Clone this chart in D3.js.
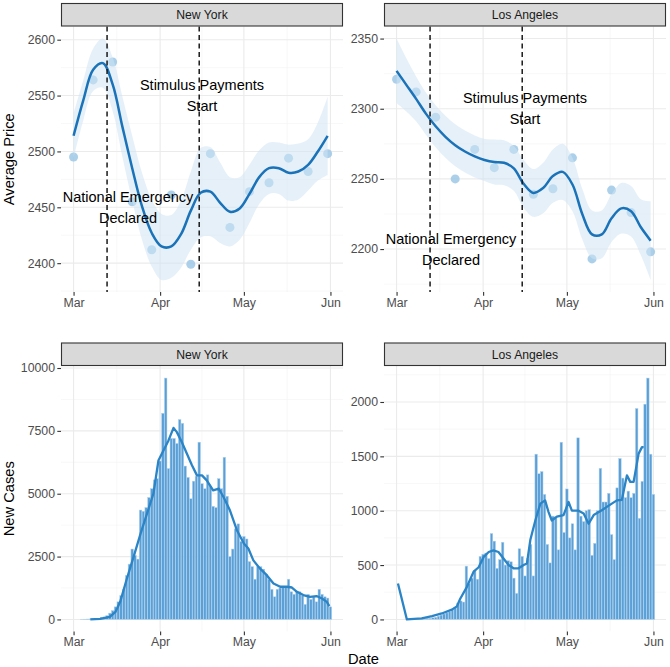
<!DOCTYPE html>
<html>
<head>
<meta charset="utf-8">
<script src="https://cdn.jsdelivr.net/npm/d3@7"></script>
<style>
  body { margin: 0; background: #fff; }
  svg text { font-family: "Liberation Sans", Arial, Helvetica, sans-serif; }
</style>
</head>
<body>
<svg id="chart" width="670" height="667"></svg>
<script>
// ---- data ----
const cities = ["New York", "Los Angeles"];

// weekly average price, Mar 1 .. May 31 (days after Mar 1)
const priceDays = [0, 7, 14, 21, 28, 35, 42, 49, 56, 63, 70, 77, 84, 91];
const nyPrice = [2495, 2564, 2580, 2455, 2412, 2461, 2399, 2498, 2432, 2464, 2472, 2494, 2482, 2498];
const laPrice = [2321, 2312, 2294, 2250, 2271, 2258, 2271, 2239, 2243, 2265, 2193, 2242, 2226, 2198];

// smoothed fit and its band, read every 3.5 days
const fitDays = [0, 3.5, 7, 10.5, 14, 17.5, 21, 24.5, 28, 31.5, 35, 38.5, 42, 45.5, 49, 52.5, 56, 59.5, 63, 66.5, 70, 73.5, 77, 80.5, 84, 87.5, 91];
const nyFit  = [2514, 2546, 2573, 2579, 2560, 2522, 2485, 2451, 2427, 2415, 2415, 2426, 2447, 2463, 2464, 2454, 2446, 2449, 2462, 2477, 2485, 2485, 2481, 2482, 2488, 2500, 2514];
const nyLow  = [2494, 2528, 2554, 2557, 2536, 2495, 2456, 2421, 2397, 2385, 2387, 2396, 2412, 2423, 2424, 2418, 2415, 2421, 2436, 2453, 2462, 2462, 2456, 2457, 2465, 2474, 2479];
const nyHigh = [2534, 2564, 2592, 2601, 2584, 2549, 2514, 2481, 2457, 2444, 2443, 2456, 2482, 2503, 2504, 2490, 2477, 2477, 2488, 2501, 2508, 2508, 2506, 2507, 2511, 2526, 2549];
const laFit  = [2327, 2317, 2307, 2296.5, 2287.5, 2280, 2274, 2269.5, 2266, 2263.5, 2262, 2261.5, 2257.5, 2246.5, 2240, 2243.5, 2252, 2255, 2246, 2225, 2210.5, 2210.5, 2222, 2229, 2227, 2215.5, 2206];
const laLow  = [2304, 2298, 2291, 2281.5, 2272.5, 2265, 2259, 2254.5, 2251, 2248.5, 2246, 2245.5, 2241.5, 2229.5, 2223, 2225.5, 2233, 2235, 2227, 2207, 2193.5, 2193.5, 2205, 2211, 2209, 2195.5, 2178];
const laHigh = [2350, 2336, 2323, 2311.5, 2302.5, 2295, 2289, 2284.5, 2281, 2278.5, 2278, 2277.5, 2273.5, 2263.5, 2257, 2261.5, 2271, 2275, 2265, 2243, 2227.5, 2227.5, 2239, 2247, 2245, 2235.5, 2234];

// events
const eventDates = ["2020-03-13", "2020-04-15"];
const eventLabels = [["National Emergency", "Declared"], ["Stimulus Payments", "Start"]];
const labelDays = [19.5, 46];
const nyLabelY = [2450, 2550];
const laLabelY = [2200, 2300];

// daily new cases, Mar 1 .. Jun 1
const nyCases = [0, 0, 0, 5, 10, 15, 20, 30, 40, 50,
  80, 100, 150, 250,
  350, 500, 700, 950, 1200, 1750, 2200, 2800, 2550, 2400,
  4350, 4300, 4450, 4850, 5200, 5550,
  5600, 6300, 8200, 9600, 6000, 7200, 7200, 7000, 7950, 7800,
  6100, 5650, 4800, 5500, 5700, 7050, 5400, 5200, 5750, 5300,
  4500, 4450, 5600, 5200, 6450, 4900, 2500, 2800, 3600, 3800,
  3100, 3300, 3200, 2300, 2100, 1600, 2100, 2100, 2000, 1800,
  1600, 1200, 900, 1200, 1250, 1300, 1300, 1600, 1100, 1000,
  1100, 1100, 950, 600, 1000, 800, 900, 700, 1200, 1000,
  900, 850, 500];
const laCases = [0, 0, 0, 0, 0, 1, 2, 3, 5, 5, 8, 10,
  10, 15, 20, 30, 40, 50, 60, 70, 90, 110, 150, 170, 160,
  490, 330, 380, 450, 370, 580, 600, 610, 560, 790,
  720, 470, 550, 710, 500, 540, 530, 380, 240, 650,
  580, 400, 560, 690, 400, 1520, 1340, 1360, 1150, 690,
  520, 950, 940, 640, 1630, 800, 1200, 750, 880, 640,
  1670, 950, 900, 1000, 1010, 590, 700, 1000, 1390, 1080,
  1080, 1160, 780, 550, 1210, 1480, 1300, 1120, 1180, 1120,
  1160, 1940, 930, 1270, 1980, 2220, 1520, 1150];

// rolling average line [day, cases]
const nyAvg = [[6,0],[9.5,25],[13,100],[15,300],[16.7,700],[19,1590],[21.5,2490],[24,3410],[26.3,4210],[28.6,5000],
  [30.4,6320],[32.2,6720],[34,7120],[35.8,7620],[37,7450],[38.8,7050],[40.6,6590],[42.4,6130],[44.2,5730],[46,5730],
  [47.7,5530],[50,5130],[52,5200],[53.7,4870],[56,4340],[58.5,3550],[61,3020],[62.6,2820],[64.4,2350],[66.8,2020],
  [69.2,1760],[71.6,1430],[74,1300],[76.4,1300],[78.2,1270],[80,1100],[82.3,970],[84.7,900],[87,930],[89,830],
  [90.7,700],[91.6,530]];
const laAvg = [[0.5,330],[3.7,0],[9,10],[12.7,30],[16.2,55],[19.8,90],[21.6,120],[22.8,190],[25.2,300],[27.6,440],
  [29.4,480],[31.2,575],[33,620],[34.7,635],[36.5,620],[38.3,560],[40.1,500],[41.9,470],[43.7,470],[45.5,500],
  [46.7,515],[47.9,730],[49.7,910],[51.5,1065],[53.2,1095],[54.4,990],[55.6,910],[57.4,945],[59.8,960],[61.6,1080],
  [62.8,1000],[65.2,1000],[67,975],[68.8,880],[70.6,960],[73.5,1005],[75.3,1035],[77.1,1065],[78.9,1095],[80.7,1100],
  [82.5,1325],[83.7,1265],[84.9,1265],[86.7,1525],[87.9,1585],[88.5,1585]];

// axes
const monthTicks = ["2020-03-01", "2020-04-01", "2020-05-01", "2020-06-01"];
const monthLabels = ["Mar", "Apr", "May", "Jun"];
const nyPriceTicks = [2400, 2450, 2500, 2550, 2600];
const laPriceTicks = [2200, 2250, 2300, 2350];
const nyCaseTicks = [0, 2500, 5000, 7500, 10000];
const laCaseTicks = [0, 500, 1000, 1500, 2000];

// ---- layout ----
const svg = d3.select("#chart");
const panelW = 282, panelH = 265.5;
const colX = [61, 384];
const rowTop = [3, 342.5];   // strip top
const stripH = 23.5;
const start = new Date(2020, 2, 1);
const dayToDate = d => new Date(start.getTime() + d * 864e5);
const parse = d3.timeParse("%Y-%m-%d");

const x = d3.scaleTime()
  .domain([dayToDate(-4.5), dayToDate(96.5)])
  .range([0, panelW]);

function expand(ext) {
  const r = ext[1] - ext[0];
  return [ext[0] - 0.05 * r, ext[1] + 0.05 * r];
}

function minorOf(ticks, dom) {
  const step = ticks[1] - ticks[0];
  const out = [ticks[0] - step / 2];
  ticks.forEach(t => out.push(t + step / 2));
  return out.filter(v => v >= dom[0] && v <= dom[1]);
}

function drawPanel(col, row, title, yTicks, yDomain) {
  const g = svg.append("g")
    .attr("transform", `translate(${colX[col]}, ${rowTop[row] + stripH})`);
  const y = d3.scaleLinear().domain(yDomain).range([panelH, 0]);

  // strip
  svg.append("rect")
    .attr("x", colX[col] + 0.5).attr("y", rowTop[row] + 0.5)
    .attr("width", panelW - 1).attr("height", stripH - 1)
    .attr("fill", "#d9d9d9").attr("stroke", "#333").attr("stroke-width", 1.1);
  svg.append("text")
    .attr("x", colX[col] + panelW / 2).attr("y", rowTop[row] + stripH / 2 + 4.3)
    .attr("text-anchor", "middle").attr("font-size", 12.2).attr("fill", "#1a1a1a")
    .text(title);

  // grid
  const yMinor = minorOf(yTicks, yDomain);
  const xMaj = monthTicks.map(parse);
  const xMinor = [new Date(2020, 2, 16, 12), new Date(2020, 3, 16), new Date(2020, 4, 16, 12)];
  g.selectAll(".ymin").data(yMinor).enter().append("line")
    .attr("x1", 0).attr("x2", panelW).attr("y1", d => y(d)).attr("y2", d => y(d))
    .attr("stroke", "#f3f3f3").attr("stroke-width", 0.6);
  g.selectAll(".xmin").data(xMinor).enter().append("line")
    .attr("y1", 0).attr("y2", panelH).attr("x1", d => x(d)).attr("x2", d => x(d))
    .attr("stroke", "#f3f3f3").attr("stroke-width", 0.6);
  g.selectAll(".ymaj").data(yTicks).enter().append("line")
    .attr("x1", 0).attr("x2", panelW).attr("y1", d => y(d)).attr("y2", d => y(d))
    .attr("stroke", "#ebebeb").attr("stroke-width", 1.1);
  g.selectAll(".xmaj").data(xMaj).enter().append("line")
    .attr("y1", 0).attr("y2", panelH).attr("x1", d => x(d)).attr("x2", d => x(d))
    .attr("stroke", "#ebebeb").attr("stroke-width", 1.1);

  // axes
  const yAxis = g.append("g")
    .call(d3.axisLeft(y).tickValues(yTicks).tickSize(3.7).tickPadding(2.3).tickFormat(d3.format("d")));
  const xAxis = g.append("g")
    .attr("transform", `translate(0, ${panelH})`)
    .call(d3.axisBottom(x).tickValues(xMaj).tickSize(3.7).tickPadding(2.3)
      .tickFormat((d, i) => monthLabels[i]));
  [yAxis, xAxis].forEach(a => {
    a.select(".domain").remove();
    a.selectAll("line").attr("stroke", "#333").attr("stroke-width", 1.1);
    a.selectAll("text").attr("fill", "#4d4d4d").attr("font-size", 12.3)
      .style("font-family", '"Liberation Sans", Arial, sans-serif');
  });
  return { g, y };
}

// ---- price panels ----
function pricePanel(col, title, pts, fit, low, high, ticks, labelY) {
  const ext = d3.extent([].concat(pts, low, high));
  const { g, y } = drawPanel(col, 0, title, ticks, expand(ext));

  g.selectAll(".pt").data(pts).enter().append("circle")
    .attr("cx", (d, i) => x(dayToDate(priceDays[i])))
    .attr("cy", d => y(d))
    .attr("r", 4.5)
    .attr("fill", "#9dc8e6").attr("opacity", 0.85);

  const band = d3.area()
    .curve(d3.curveCatmullRom.alpha(0.5))
    .x((d, i) => x(dayToDate(fitDays[i])))
    .y0((d, i) => y(low[i]))
    .y1((d, i) => y(high[i]));
  g.append("path").datum(fit).attr("d", band)
    .attr("fill", "#cfe3f4").attr("opacity", 0.55);

  const line = d3.line()
    .curve(d3.curveCatmullRom.alpha(0.5))
    .x((d, i) => x(dayToDate(fitDays[i])))
    .y(d => y(d));
  g.append("path").datum(fit).attr("d", line)
    .attr("fill", "none").attr("stroke", "#1a72b8").attr("stroke-width", 2.5);

  g.selectAll(".ev").data(eventDates).enter().append("line")
    .attr("x1", d => x(parse(d))).attr("x2", d => x(parse(d)))
    .attr("y1", 0).attr("y2", panelH)
    .attr("stroke", "#1a1a1a").attr("stroke-width", 1.5)
    .attr("stroke-dasharray", "5,3.5");

  eventLabels.forEach((lines, i) => {
    const cx = x(dayToDate(labelDays[i]));
    const cy = y(labelY[i]);
    lines.forEach((t, j) => {
      g.append("text")
        .attr("x", cx).attr("y", cy + (j - 0.5) * 21 + 5)
        .attr("text-anchor", "middle").attr("font-size", 14.5).attr("fill", "#000")
        .text(t);
    });
  });
}

pricePanel(0, cities[0], nyPrice, nyFit, nyLow, nyHigh, nyPriceTicks, nyLabelY);
pricePanel(1, cities[1], laPrice, laFit, laLow, laHigh, laPriceTicks, laLabelY);

// ---- case panels ----
function casePanel(col, title, cases, avg, ticks) {
  const mx = d3.max(cases);
  const { g, y } = drawPanel(col, 1, title, ticks, [-0.05 * mx, 1.05 * mx]);
  const bw = (x(dayToDate(1)) - x(dayToDate(0))) * 0.9;

  g.selectAll(".bar").data(cases).enter().append("rect")
    .attr("x", (d, i) => x(dayToDate(i)) - bw / 2)
    .attr("width", bw)
    .attr("y", d => Math.min(y(d), y(0)))
    .attr("height", d => Math.abs(y(0) - y(d)))
    .attr("fill", "#5a9fd6")
    .attr("stroke", "#b3d3ee").attr("stroke-width", 0.5);

  const line = d3.line()
    .x(d => x(dayToDate(d[0])))
    .y(d => y(d[1]));
  g.append("path").datum(avg).attr("d", line)
    .attr("fill", "none").attr("stroke", "#2a84c6").attr("stroke-width", 2.3)
    .attr("stroke-linejoin", "round");
}

casePanel(0, cities[0], nyCases, nyAvg, nyCaseTicks);
casePanel(1, cities[1], laCases, laAvg, laCaseTicks);

// ---- axis titles ----
svg.append("text")
  .attr("transform", `translate(14, ${rowTop[0] + stripH + panelH / 2}) rotate(-90)`)
  .attr("text-anchor", "middle").attr("font-size", 14.7).attr("fill", "#000")
  .text("Average Price");
svg.append("text")
  .attr("transform", `translate(14, ${rowTop[1] + stripH + panelH / 2}) rotate(-90)`)
  .attr("text-anchor", "middle").attr("font-size", 14.7).attr("fill", "#000")
  .text("New Cases");
svg.append("text")
  .attr("x", (colX[0] + colX[1] + panelW) / 2).attr("y", 664)
  .attr("text-anchor", "middle").attr("font-size", 14.7).attr("fill", "#000")
  .text("Date");
</script>
</body>
</html>
